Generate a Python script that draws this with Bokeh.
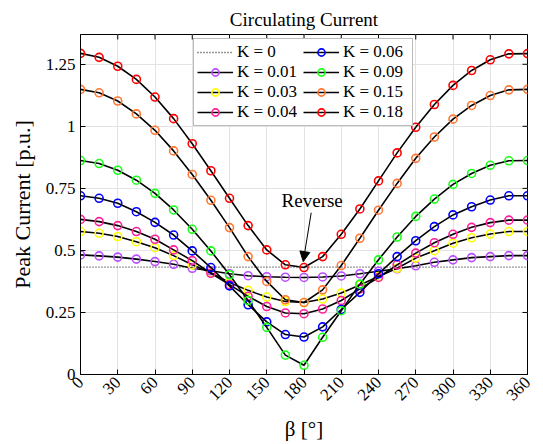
from bokeh.plotting import figure
from bokeh.models import (Legend, LegendItem, Label, Arrow, NormalHead,
                          FixedTicker, Range1d)
from bokeh.embed import file_html
from bokeh.resources import INLINE

beta = [0, 15, 30, 45, 60, 75, 90, 105, 120, 135, 150, 165, 180,
        195, 210, 225, 240, 255, 270, 285, 300, 315, 330, 345, 360]

k0 = [0.433] * 25
k001 = [0.482, 0.478, 0.473, 0.465, 0.455, 0.444, 0.428, 0.418, 0.406, 0.398, 0.394, 0.392, 0.391,
        0.393, 0.397, 0.406, 0.416, 0.426, 0.438, 0.452, 0.462, 0.471, 0.475, 0.479, 0.479]
k003 = [0.576, 0.569, 0.556, 0.535, 0.511, 0.479, 0.442, 0.410, 0.371, 0.339, 0.312, 0.294, 0.290,
        0.304, 0.328, 0.361, 0.395, 0.428, 0.469, 0.499, 0.529, 0.551, 0.566, 0.576, 0.576]
k004 = [0.625, 0.616, 0.600, 0.576, 0.545, 0.502, 0.459, 0.408, 0.362, 0.315, 0.274, 0.248, 0.245,
        0.264, 0.298, 0.345, 0.391, 0.442, 0.489, 0.531, 0.565, 0.593, 0.612, 0.622, 0.622]
k006 = [0.720, 0.710, 0.690, 0.656, 0.613, 0.562, 0.498, 0.431, 0.357, 0.281, 0.212, 0.161, 0.151,
        0.192, 0.262, 0.331, 0.406, 0.475, 0.539, 0.596, 0.643, 0.676, 0.703, 0.720, 0.720]
k009 = [0.862, 0.850, 0.823, 0.783, 0.730, 0.663, 0.585, 0.498, 0.402, 0.298, 0.190, 0.078, 0.037,
        0.150, 0.257, 0.364, 0.462, 0.554, 0.637, 0.707, 0.766, 0.810, 0.843, 0.861, 0.862]
k015 = [1.149, 1.135, 1.102, 1.050, 0.984, 0.901, 0.806, 0.702, 0.592, 0.475, 0.375, 0.301, 0.290,
        0.341, 0.439, 0.549, 0.662, 0.770, 0.871, 0.957, 1.029, 1.084, 1.124, 1.147, 1.149]
k018 = [1.294, 1.278, 1.242, 1.189, 1.118, 1.031, 0.930, 0.821, 0.710, 0.600, 0.502, 0.442, 0.431,
        0.475, 0.565, 0.667, 0.780, 0.893, 0.996, 1.088, 1.165, 1.225, 1.268, 1.292, 1.293]

labels = ["K = 0.01", "K = 0.03", "K = 0.04", "K = 0.06", "K = 0.09", "K = 0.15", "K = 0.18"]
series = [k001, k003, k004, k006, k009, k015, k018]
colors = ["#b94dff", "#ffff00", "#ff1e9b", "#0000ff", "#1aff1a", "#ff7733", "#ff0000"]

x_ticks = list(range(0, 361, 30))
y_ticks = [0, 0.25, 0.5, 0.75, 1, 1.25]
y_tick_labels = ["0", "0.25", "0.5", "0.75", "1", "1.25"]

X_MAX = 360
Y_MAX = 1.37
FONT = "Liberation Serif"

p = figure(width=543, height=444, x_range=Range1d(0, X_MAX), y_range=Range1d(0, Y_MAX),
           toolbar_location=None, output_backend="svg",
           min_border_left=80, min_border_right=16, min_border_top=34, min_border_bottom=69)

p.title.text = "Circulating Current"
p.title.align = "center"
p.title.text_font = FONT
p.title.text_font_size = "19px"
p.title.text_font_style = "normal"
p.title.text_color = "black"
p.title.offset = 0

p.outline_line_color = "black"
p.outline_line_width = 1
p.outline_line_alpha = 1

for ax in (p.xaxis[0], p.yaxis[0]):
    ax.major_tick_in = 5
    ax.major_tick_out = 0
    ax.minor_tick_line_color = None
    ax.axis_line_color = "black"
    ax.major_tick_line_color = "black"
    ax.major_label_text_font = FONT
    ax.major_label_text_font_size = "17px"
    ax.major_label_text_color = "black"
    ax.axis_label_text_font = FONT
    ax.axis_label_text_font_style = "normal"
    ax.axis_label_text_color = "black"

p.xaxis[0].ticker = FixedTicker(ticks=x_ticks)
p.xaxis[0].major_label_orientation = 0.785398
p.xaxis[0].axis_label = "β [°]"
p.xaxis[0].axis_label_text_font_size = "21px"
p.xaxis[0].axis_label_standoff = 9
p.yaxis[0].ticker = FixedTicker(ticks=y_ticks)
p.yaxis[0].major_label_overrides = {t: s for t, s in zip(y_ticks, y_tick_labels)}
p.yaxis[0].axis_label = "Peak Current [p.u.]"
p.yaxis[0].axis_label_text_font_size = "22px"
p.yaxis[0].axis_label_standoff = 8

# inward ticks on the top and right edges of the box
tick_len_x = 5 * X_MAX / 447.0
tick_len_y = 5 * Y_MAX / 341.0
p.segment(x0=x_ticks, y0=[Y_MAX] * len(x_ticks), x1=x_ticks,
          y1=[Y_MAX - tick_len_y] * len(x_ticks), line_color="black", line_width=1)
p.segment(x0=[X_MAX] * len(y_ticks), y0=y_ticks, x1=[X_MAX - tick_len_x] * len(y_ticks),
          y1=y_ticks, line_color="black", line_width=1)

p.xgrid.ticker = FixedTicker(ticks=x_ticks)
p.ygrid.ticker = FixedTicker(ticks=y_ticks)
p.grid.grid_line_color = "#e3e3e3"
p.grid.grid_line_width = 1

items = []
r0 = p.line(beta, k0, line_color="#333333", line_width=1.3, line_dash="1 2")
items.append(LegendItem(label="K = 0", renderers=[r0]))
for lab, ys, c in zip(labels, series, colors):
    rl = p.line(beta, ys, line_color="black", line_width=1.6)
    rs = p.scatter(beta, ys, size=8, marker="circle", fill_color=None,
                   line_color=c, line_width=1.6)
    items.append(LegendItem(label=lab, renderers=[rl, rs]))

legend = Legend(items=items, location=(113, 248), orientation="vertical", nrows=4,
                label_text_font=FONT, label_text_font_size="17px", label_text_color="black",
                glyph_width=36, glyph_height=18, label_height=18, label_width=66,
                label_standoff=4, spacing=0,
                padding=3, margin=0, border_line_color="#777777", border_line_width=1,
                background_fill_color="white", background_fill_alpha=1)
p.add_layout(legend, "center")

p.add_layout(Label(x=186.6, y=0.70, text="Reverse", text_align="center",
                   text_baseline="middle", text_font=FONT, text_font_size="19px",
                   text_color="black"))
p.add_layout(Arrow(end=NormalHead(size=10, fill_color="black", line_color="black"),
                   x_start=185.8, y_start=0.652, x_end=179.4, y_end=0.455,
                   line_color="black", line_width=1))

open("out.html", "w").write(file_html(p, INLINE))
